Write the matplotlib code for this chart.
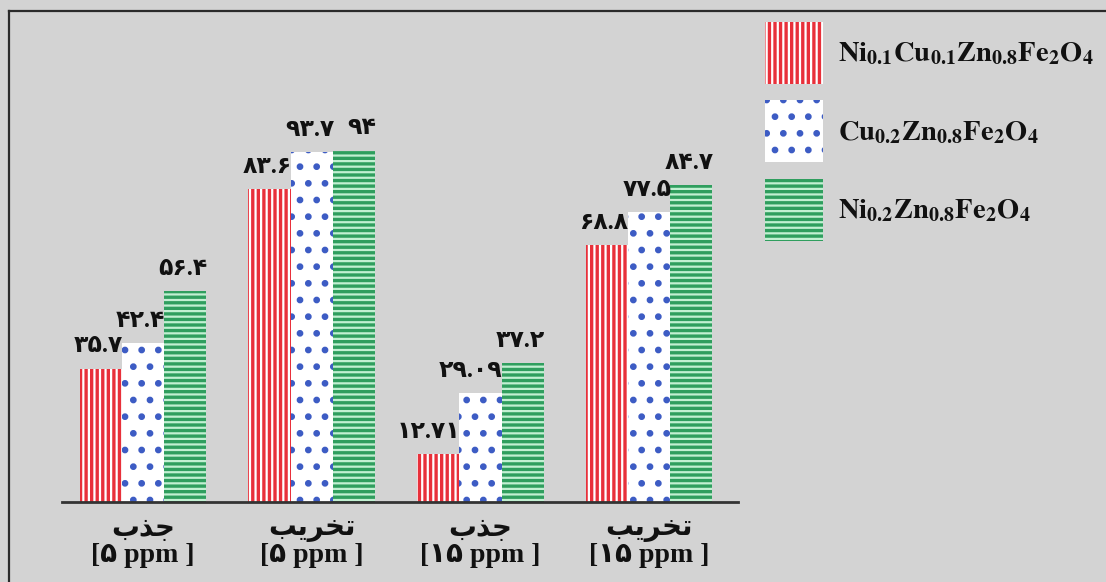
import matplotlib
matplotlib.use("Agg")
import matplotlib.pyplot as plt
from matplotlib.patches import Patch
from matplotlib.lines import Line2D
import numpy as np

# ---------------- data ----------------
# Arabic words stored in visual (presentation-form) order so they render joined
ADS = "\uFE8F\uFEAC\uFE9F"               # جذب
DEG = "\uFE90\uFEF3\uFEAE\uFEA8\uFE97"   # تخریب
categories = [ADS + "\n[\u06F5 ppm ]", DEG + "\n[\u06F5 ppm ]",
              ADS + "\n[\u06F1\u06F5 ppm ]", DEG + "\n[\u06F1\u06F5 ppm ]"]
series_names = [r"$\mathbf{Ni_{0.1}Cu_{0.1}Zn_{0.8}Fe_{2}O_{4}}$",
                r"$\mathbf{Cu_{0.2}Zn_{0.8}Fe_{2}O_{4}}$",
                r"$\mathbf{Ni_{0.2}Zn_{0.8}Fe_{2}O_{4}}$"]
ni_cu_zn = [35.7, 83.6, 12.71, 68.8]
cu_zn = [42.4, 93.7, 29.09, 77.5]
ni_zn = [56.4, 94, 37.2, 84.7]
series = [ni_cu_zn, cu_zn, ni_zn]

PERSIAN = str.maketrans("0123456789", "\u06F0\u06F1\u06F2\u06F3\u06F4\u06F5\u06F6\u06F7\u06F8\u06F9")

def fa(v):
    return ("{:g}".format(v)).translate(PERSIAN)

# ---------------- style ----------------
plt.rcParams['hatch.linewidth'] = 2.4
plt.rcParams['mathtext.fontset'] = 'stix'
BG = '#d3d3d3'
styles = [
    dict(facecolor='#ffffff', edgecolor='#e8303a', hatch='|||'),
    dict(facecolor='#ffffff', edgecolor='#3d5cc4', hatch='.'),
    dict(facecolor='#c2f0d2', edgecolor='#2f9e5e', hatch='---'),
]
FONT = ['Liberation Serif', 'DejaVu Sans']

fig = plt.figure(figsize=(11.06, 5.82), dpi=100, facecolor=BG)
ax = fig.add_axes([0.0561, 0.1375, 0.6112, 0.835])
ax.set_facecolor(BG)

x = np.arange(len(categories))
w = 0.25
for i, (vals, st) in enumerate(zip(series, styles)):
    pos = x + (i - 1) * w
    ax.bar(pos, vals, width=w, linewidth=0, label=series_names[i], **st)
    for p, v in zip(pos, vals):
        ax.annotate(fa(v), xy=(p + w / 2, v), xytext=(1, 8), textcoords='offset points',
                    ha='right', va='bottom', fontsize=17, fontweight='bold',
                    family=FONT, color='#111111')

ax.set_xlim(-0.48, 3.527)
ax.set_ylim(0, 130)
ax.set_yticks([])
ax.set_xticks(x)
ax.set_xticklabels(categories, fontsize=20, fontweight='bold', family=FONT,
                   linespacing=1.05, multialignment='center', color='#111111')
ax.tick_params(axis='x', length=0, pad=11)
for s in ['top', 'right', 'left']:
    ax.spines[s].set_visible(False)
ax.spines['bottom'].set_linewidth(2)
ax.spines['bottom'].set_color('#333333')

handles = [Patch(linewidth=0, **st) for st in styles]
leg = fig.legend(handles, series_names, loc='upper left',
                 bbox_to_anchor=(765 / 1106, 1 - 22 / 582), frameon=False,
                 fontsize=20.5, handlelength=2.04, handleheight=2.98,
                 labelspacing=0.57, handletextpad=0.53, borderpad=0, borderaxespad=0)
for t in leg.get_texts():
    t.set_color('#111111')

# outer frame (top and left edges)
fig.add_artist(Line2D([9 / 1106, 1.0], [1 - 11 / 582, 1 - 11 / 582],
                      transform=fig.transFigure, color='#2a2a2a', linewidth=1.6))
fig.add_artist(Line2D([9 / 1106, 9 / 1106], [0, 1 - 11 / 582],
                      transform=fig.transFigure, color='#2a2a2a', linewidth=1.6))

fig.savefig('out.png', dpi=100, facecolor=BG)
